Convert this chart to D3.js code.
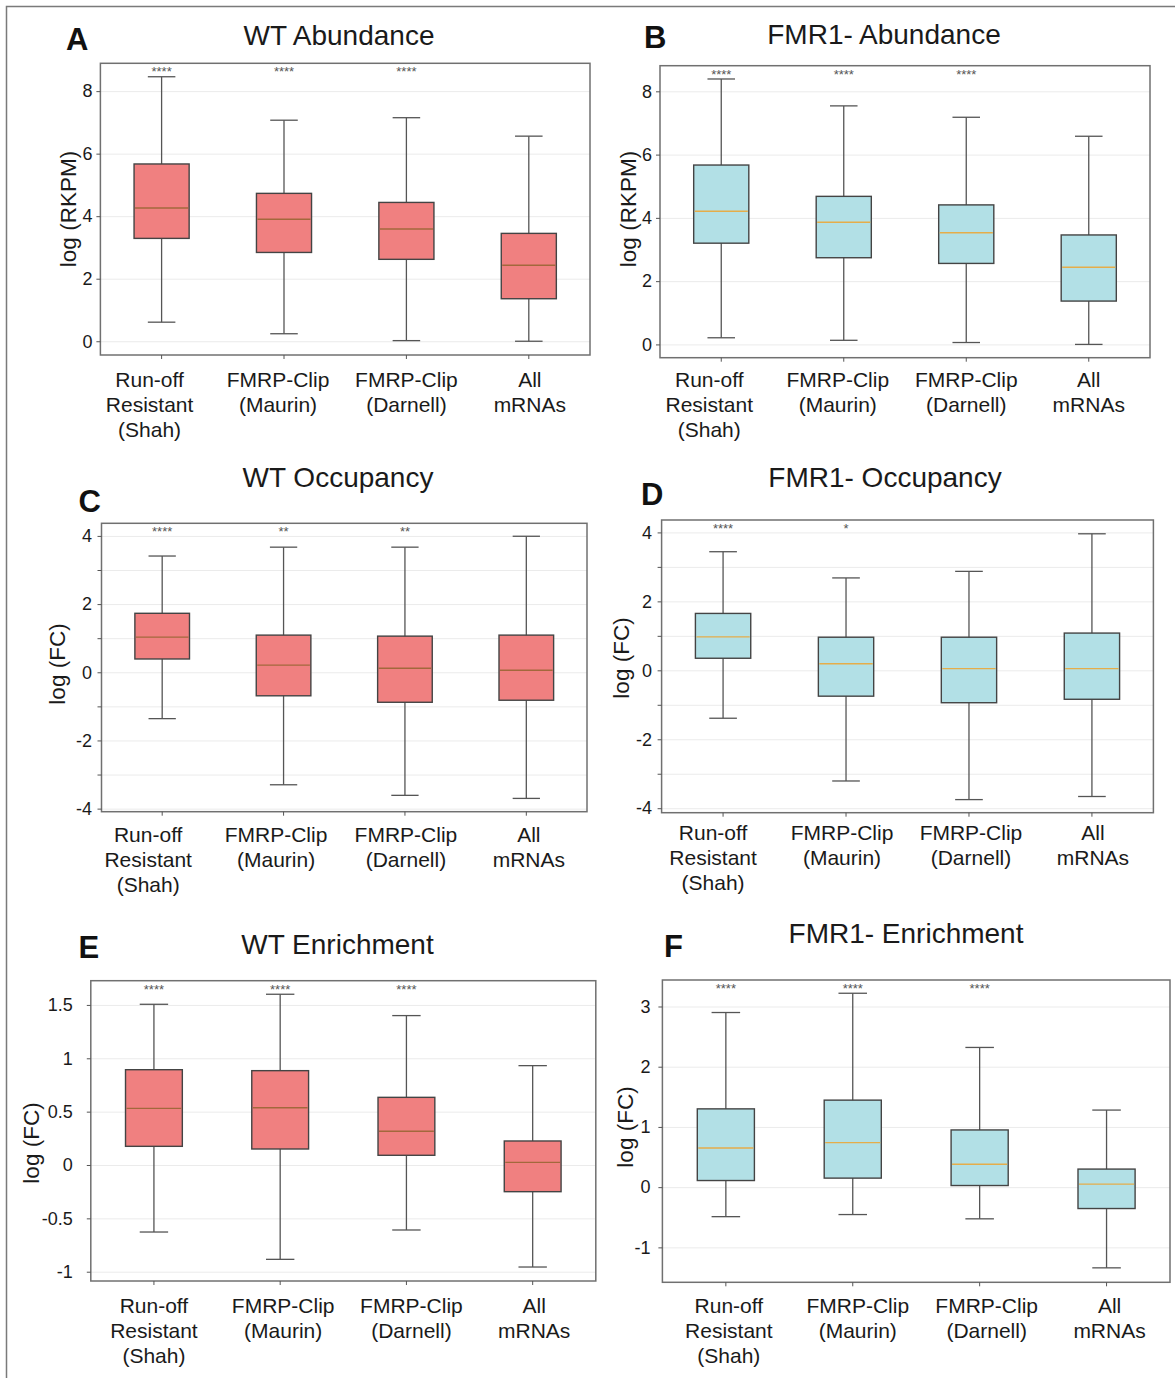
<!DOCTYPE html>
<html>
<head>
<meta charset="utf-8">
<script src="https://cdn.jsdelivr.net/npm/d3@7"></script>
<style>
  body { margin: 0; background: #fff; }
  svg { display: block; font-family: "Liberation Sans", Arial, Helvetica, sans-serif; }
</style>
</head>
<body>
<div id="fig"></div>
<script>
// categories (x tick labels, split in lines)
const groups = ['Run-off Resistant (Shah)', 'FMRP-Clip (Maurin)', 'FMRP-Clip (Darnell)', 'All mRNAs'];
const groupLines = [['Run-off', 'Resistant', '(Shah)'], ['FMRP-Clip', '(Maurin)'], ['FMRP-Clip', '(Darnell)'], ['All', 'mRNAs']];

// box stats per group: [whisker low, Q1, median, Q3, whisker high]
const wtAbundance = [[0.61, 3.29, 4.26, 5.67, 8.46], [0.24, 2.84, 3.90, 4.73, 7.07], [0.02, 2.62, 3.59, 4.44, 7.15], [0.00, 1.36, 2.43, 3.45, 6.56]];
const fmr1Abundance = [[0.21, 3.20, 4.21, 5.67, 8.39], [0.13, 2.74, 3.86, 4.68, 7.54], [0.06, 2.56, 3.53, 4.41, 7.18], [0.00, 1.37, 2.44, 3.46, 6.58]];
const wtOccupancy = [[-1.36, 0.39, 1.03, 1.73, 3.41], [-3.30, -0.69, 0.21, 1.09, 3.67], [-3.61, -0.88, 0.12, 1.06, 3.67], [-3.70, -0.82, 0.06, 1.09, 3.99]];
const fmr1Occupancy = [[-1.39, 0.35, 0.97, 1.65, 3.44], [-3.21, -0.75, 0.19, 0.96, 2.68], [-3.75, -0.94, 0.05, 0.96, 2.87], [-3.66, -0.84, 0.05, 1.08, 3.96]];
const wtEnrichment = [[-0.628, 0.175, 0.531, 0.893, 1.506], [-0.884, 0.150, 0.537, 0.884, 1.60], [-0.609, 0.091, 0.316, 0.634, 1.40], [-0.956, -0.25, 0.025, 0.225, 0.931]];
const fmr1Enrichment = [[-0.49, 0.11, 0.65, 1.30, 2.90], [-0.455, 0.15, 0.74, 1.445, 3.22], [-0.526, 0.027, 0.38, 0.95, 2.32], [-1.34, -0.355, 0.05, 0.30, 1.28]];

// significance marks
const starsAbundance = ['****', '****', '****', ''];
const starsWtOccupancy = ['****', '**', '**', ''];
const starsFmr1Occupancy = ['****', '*', '', ''];
const starsEnrichment = ['****', '****', '****', ''];

// y ticks
const abundanceTicks = [0, 2, 4, 6, 8];
const occupancyTicks = [-4, -2, 0, 2, 4];
const occupancyMinor = [-3, -1, 1, 3];
const wtEnrichTicks = [-1, -0.5, 0, 0.5, 1, 1.5];
const fmr1EnrichTicks = [-1, 0, 1, 2, 3];

const WT = { fill: '#f08080', median: '#a3683c' };
const KO = { fill: '#b2e0e6', median: '#e5ad4a' };

const panels = [
  { letter: 'A', title: 'WT Abundance', stats: wtAbundance, stars: starsAbundance, ticks: abundanceTicks, minor: [],
    ylabel: 'log (RKPM)', domain: [-0.44, 8.89], col: WT,
    frame: { x0: 100.4, x1: 590, y0: 63.3, y1: 355 }, letterAt: [66, 50], titleAt: [339, 45], ylabelAt: [68, 209],
    gap: 8, shift: [-12, -6, 0, 1], labelDy: 32 },
  { letter: 'B', title: 'FMR1- Abundance', stats: fmr1Abundance, stars: starsAbundance, ticks: abundanceTicks, minor: [],
    ylabel: 'log (RKPM)', domain: [-0.42, 8.81], col: KO,
    frame: { x0: 660, x1: 1150, y0: 65.7, y1: 357.7 }, letterAt: [644, 48], titleAt: [884, 44], ylabelAt: [628, 209],
    gap: 8, shift: [-12, -6, 0, 0], labelDy: 29.5 },
  { letter: 'C', title: 'WT Occupancy', stats: wtOccupancy, stars: starsWtOccupancy, ticks: occupancyTicks, minor: occupancyMinor,
    ylabel: 'log (FC)', domain: [-4.09, 4.37], col: WT,
    frame: { x0: 101.5, x1: 587, y0: 523.3, y1: 811.7 }, letterAt: [78.5, 512], titleAt: [338, 487], ylabelAt: [57.5, 664],
    gap: 9.5, shift: [-14, -7.5, 1, 2.5], labelDy: 30 },
  { letter: 'D', title: 'FMR1- Occupancy', stats: fmr1Occupancy, stars: starsFmr1Occupancy, ticks: occupancyTicks, minor: occupancyMinor,
    ylabel: 'log (FC)', domain: [-4.13, 4.36], col: KO,
    frame: { x0: 661.6, x1: 1153.4, y0: 520, y1: 812.7 }, letterAt: [641, 505], titleAt: [885, 487], ylabelAt: [621, 658],
    gap: 9.6, shift: [-10, -4, 2, 1], labelDy: 27.5 },
  { letter: 'E', title: 'WT Enrichment', stats: wtEnrichment, stars: starsEnrichment, ticks: wtEnrichTicks, minor: [],
    ylabel: 'log (FC)', domain: [-1.087, 1.727], col: WT,
    frame: { x0: 90.8, x1: 595.8, y0: 980.7, y1: 1281 }, letterAt: [78.5, 958], titleAt: [337.5, 954], ylabelAt: [31, 1143],
    gap: 18, shift: [0, 3, 5, 1.5], labelDy: 32 },
  { letter: 'F', title: 'FMR1- Enrichment', stats: fmr1Enrichment, stars: starsEnrichment, ticks: fmr1EnrichTicks, minor: [],
    ylabel: 'log (FC)', domain: [-1.58, 3.44], col: KO,
    frame: { x0: 662.4, x1: 1170, y0: 980, y1: 1282.3 }, letterAt: [664, 957], titleAt: [906, 943], ylabelAt: [625, 1127],
    gap: 12, shift: [3, 5, 7, 3], labelDy: 31 }
];

const svg = d3.select('#fig').append('svg')
  .attr('width', 1175)
  .attr('height', 1378);

// figure border
svg.append('rect')
  .attr('x', 6.5).attr('y', 6.5)
  .attr('width', 1200).attr('height', 1400)
  .attr('fill', 'none')
  .attr('stroke', '#7a7a7a')
  .attr('stroke-width', 1.5);

function drawPanel(p) {
  const f = p.frame;
  const g = svg.append('g');

  const x = d3.scaleBand()
    .domain(groups)
    .range([f.x0, f.x1])
    .paddingInner(0.55)
    .paddingOuter(0.275);

  const y = d3.scaleLinear()
    .domain(p.domain)
    .range([f.y1, f.y0]);

  const fmt = d => String(d);

  // gridlines (major + minor)
  const grid = g.append('g')
    .attr('transform', `translate(${f.x0},0)`)
    .call(d3.axisLeft(y).tickValues(p.ticks.concat(p.minor)).tickSize(-(f.x1 - f.x0)).tickFormat(''));
  grid.select('.domain').remove();
  grid.selectAll('line').attr('stroke', '#ebebeb').attr('stroke-width', 1);

  const bw = x.bandwidth();
  const boxes = g.selectAll('g.box')
    .data(p.stats.map((s, i) => ({ key: groups[i], s })))
    .enter().append('g')
    .attr('class', 'box');

  // whiskers
  boxes.append('line')
    .attr('x1', d => x(d.key) + bw / 2).attr('x2', d => x(d.key) + bw / 2)
    .attr('y1', d => y(d.s[0])).attr('y2', d => y(d.s[4]))
    .attr('stroke', '#555').attr('stroke-width', 1.3);
  [0, 4].forEach(k => {
    boxes.append('line')
      .attr('x1', d => x(d.key) + bw / 4).attr('x2', d => x(d.key) + bw * 3 / 4)
      .attr('y1', d => y(d.s[k])).attr('y2', d => y(d.s[k]))
      .attr('stroke', '#555').attr('stroke-width', 1.3);
  });

  // box
  boxes.append('rect')
    .attr('x', d => x(d.key))
    .attr('width', bw)
    .attr('y', d => y(d.s[3]))
    .attr('height', d => y(d.s[1]) - y(d.s[3]))
    .attr('fill', p.col.fill)
    .attr('stroke', '#444')
    .attr('stroke-width', 1.4);

  // median
  boxes.append('line')
    .attr('x1', d => x(d.key) + 1).attr('x2', d => x(d.key) + bw - 1)
    .attr('y1', d => y(d.s[2])).attr('y2', d => y(d.s[2]))
    .attr('stroke', p.col.median).attr('stroke-width', 1.4);

  // stars
  g.selectAll('text.star')
    .data(p.stars)
    .enter().append('text')
    .attr('class', 'star')
    .attr('x', (d, i) => x(groups[i]) + bw / 2)
    .attr('y', f.y0 + 13)
    .attr('text-anchor', 'middle')
    .attr('font-size', 13)
    .attr('fill', '#555')
    .text(d => d);

  // frame
  g.append('rect')
    .attr('x', f.x0).attr('y', f.y0)
    .attr('width', f.x1 - f.x0).attr('height', f.y1 - f.y0)
    .attr('fill', 'none')
    .attr('stroke', '#707070')
    .attr('stroke-width', 1.5);

  // y axis
  const ya = g.append('g')
    .attr('transform', `translate(${f.x0},0)`)
    .call(d3.axisLeft(y).tickValues(p.ticks).tickSize(4).tickPadding(p.gap - 4).tickFormat(fmt));
  ya.select('.domain').remove();
  ya.selectAll('line').attr('stroke', '#555');
  ya.selectAll('text').attr('font-size', 18).attr('fill', '#1a1a1a')
    .style('font-family', '"Liberation Sans", Arial, sans-serif');

  if (p.minor.length) {
    const ym = g.append('g')
      .attr('transform', `translate(${f.x0},0)`)
      .call(d3.axisLeft(y).tickValues(p.minor).tickSize(4).tickFormat(''));
    ym.select('.domain').remove();
    ym.selectAll('line').attr('stroke', '#555');
  }

  // x axis ticks
  const xa = g.append('g')
    .attr('transform', `translate(0,${f.y1})`)
    .call(d3.axisBottom(x).tickSize(4).tickFormat(''));
  xa.select('.domain').remove();
  xa.selectAll('line').attr('stroke', '#555');

  // x labels
  groupLines.forEach((lines, i) => {
    const t = g.append('text')
      .attr('text-anchor', 'middle')
      .attr('font-size', 21)
      .attr('fill', '#1a1a1a');
    lines.forEach((ln, j) => {
      t.append('tspan')
        .attr('x', x(groups[i]) + bw / 2 + p.shift[i])
        .attr('y', f.y1 + p.labelDy + j * 25)
        .text(ln);
    });
  });

  // y label
  g.append('text')
    .attr('transform', `translate(${p.ylabelAt[0]},${p.ylabelAt[1]}) rotate(-90)`)
    .attr('text-anchor', 'middle')
    .attr('dominant-baseline', 'central')
    .attr('font-size', 22.5)
    .attr('fill', '#1a1a1a')
    .text(p.ylabel);

  // title and panel letter
  g.append('text')
    .attr('x', p.titleAt[0]).attr('y', p.titleAt[1])
    .attr('text-anchor', 'middle')
    .attr('font-size', 28)
    .attr('fill', '#1a1a1a')
    .text(p.title);

  g.append('text')
    .attr('x', p.letterAt[0]).attr('y', p.letterAt[1])
    .attr('font-size', 31)
    .attr('font-weight', 'bold')
    .attr('fill', '#111')
    .text(p.letter);
}

panels.forEach(drawPanel);
</script>
</body>
</html>
